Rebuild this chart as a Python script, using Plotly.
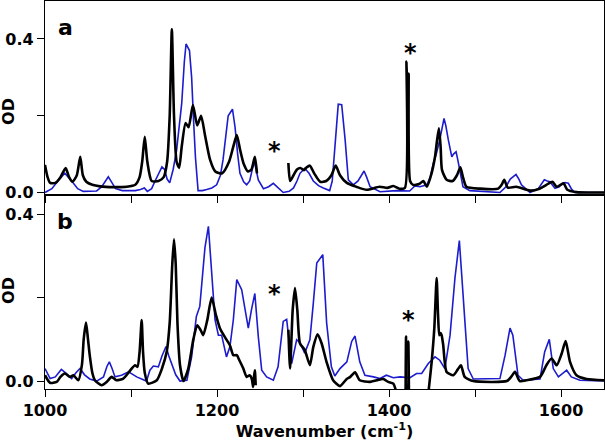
import plotly.graph_objects as go

# ---------------- data (wavenumber cm-1, OD) ----------------
# Panel a, black spectrum (None = gap)
a_black_x = [1000, 1003, 1006, 1012, 1018, 1024, 1028, 1032, 1037, 1041, 1044, 1048, 1055, 1064, 1080,
             1095, 1105, 1110, 1113, 1116, 1119, 1124, 1132, 1138, 1142, 1145, 1147.5, 1150, 1153, 1156,
             1159, 1163.5, 1167, 1172, 1177, 1181.5, 1186, 1192, 1198, 1206, 1214, 1219, 1223, 1227, 1231,
             1236, 1240, 1244, 1246.5, None,
             1283, 1285, 1289, 1293, 1297, 1301, 1304, 1308, 1313, 1320, 1327, 1333, 1338, 1343, 1351,
             1362, 1374, 1389, 1398, 1405, 1412, 1418.5, 1420.3, 1421.5, 1422.8, 1424.5, 1428, 1435, 1440,
             1444, 1449.5, 1453.5, 1455.5, 1458, 1460, 1461.6, 1467, 1474, 1479, 1483, 1486, 1490, 1506,
             1527, 1531, 1534, 1538, 1548, 1564, 1575, 1583, 1590, 1595, 1603, 1607, 1618, 1650]
a_black_y = [0.072, 0.04, 0.025, 0.025, 0.04, 0.064, 0.04, 0.028, 0.045, 0.093, 0.045, 0.028, 0.02, 0.016, 0.014,
             0.015, 0.02, 0.04, 0.08, 0.145, 0.08, 0.03, 0.03, 0.04, 0.08, 0.2, 0.425, 0.2, 0.08, 0.064,
             0.12, 0.181, 0.17, 0.228, 0.175, 0.2, 0.15, 0.085, 0.055, 0.05, 0.08, 0.12, 0.15, 0.11, 0.075,
             0.055, 0.06, 0.093, 0.05, None,
             0.077, 0.03, 0.045, 0.06, 0.064, 0.058, 0.065, 0.07, 0.05, 0.028, 0.03, 0.045, 0.07, 0.045, 0.025,
             0.015, 0.007, 0.015, 0.012, 0.017, 0.01, 0.012, 0.341, 0.2, 0.31, 0.03, 0.02, 0.022, 0.03,
             0.015, 0.05, 0.093, 0.129, 0.167, 0.12, 0.059, 0.033, 0.03, 0.045, 0.066, 0.04, 0.015, 0.01,
             0.01, 0.02, 0.033, 0.013, 0.015, 0.005, 0.01, 0.02, 0.028, 0.015, 0.024, 0.008, 0.001, 0.0]

# Panel a, blue spectrum
a_blue_x = [1000, 1008, 1015, 1023, 1031, 1038, 1044.5, 1060, 1066, 1073.6, 1078, 1082, 1090, 1105, 1111,
            1115.5, 1119, 1124, 1128, 1132, 1136, 1139, 1142, 1145, 1149, 1153, 1156, 1159, 1162, 1164,
            1168, 1170.5, 1172.7, 1175, 1178, 1183, 1188, 1194, 1199.6, 1204, 1207, 1210, 1213, 1218, 1221,
            1224, 1226.7, 1231, 1234.5, 1238, 1241, 1243, 1245, 1248, 1254, 1260, 1265.5, 1270, 1277, 1284,
            1289, 1293, 1296.5, 1302, 1307, 1312, 1318, 1323.6, 1331, 1334, 1336, 1338, 1341, 1345, 1347,
            1349, 1352.7, 1358.5, 1364, 1368, 1371, 1374, 1378, 1389.5, 1409, 1424, 1430, 1436, 1444, 1448,
            1451.5, 1455, 1459, 1464, 1466, 1469, 1473, 1475, 1478, 1480, 1482.5, 1486, 1494, 1529, 1536,
            1541, 1547.7, 1551, 1554, 1564, 1573.6, 1578, 1580.6, 1584, 1587, 1593, 1598, 1602, 1604.6,
            1608.5, 1612, 1616, 1650]
a_blue_y = [0.0, 0.01, 0.03, 0.05, 0.03, 0.01, 0.003, 0.004, 0.015, 0.041, 0.025, 0.01, 0.005, 0.005, 0.008,
            0.012, 0.003, 0.01, 0.03, 0.05, 0.067, 0.06, 0.035, 0.025, 0.06, 0.11, 0.17, 0.233, 0.34, 0.387,
            0.37, 0.3, 0.19, 0.09, 0.005, 0.005, 0.008, 0.012, 0.02, 0.045, 0.085, 0.14, 0.2, 0.217, 0.17,
            0.1, 0.05, 0.028, 0.02, 0.03, 0.06, 0.08, 0.065, 0.033, 0.01, 0.015, 0.024, 0.015, 0.0, 0.003,
            0.012, 0.03, 0.05, 0.063, 0.05, 0.03, 0.018, 0.012, 0.005, 0.03, 0.09, 0.154, 0.23, 0.229, 0.19,
            0.137, 0.033, 0.02, 0.03, 0.045, 0.056, 0.04, 0.015, 0.002, 0.005, 0.004, 0.017, 0.015, 0.02, 0.04,
            0.076, 0.1, 0.137, 0.193, 0.175, 0.137, 0.093, 0.1, 0.106, 0.085, 0.059, 0.015, 0.005, 0.0, 0.015,
            0.035, 0.047, 0.035, 0.02, 0.0, 0.01, 0.025, 0.033, 0.03, 0.028, 0.011, 0.015, 0.024, 0.026,
            0.024, 0.01, 0.0, 0.0]

# Panel b, black spectrum
b_black_x = [1000, 1005.8, 1013.6, 1018, 1023, 1029, 1033, 1038.7, 1043, 1045, 1047.7, 1050, 1052, 1055, 1058,
             1066, 1071.7, 1077.5, 1083, 1091, 1097, 1100.8, 1104.7, 1107.5, 1110, 1112.4, 1114, 1116, 1120,
             1130, 1136, 1141.5, 1145, 1148, 1150, 1152, 1154, 1157, 1161, 1166.6, 1172.5, 1177, 1181, 1184,
             1188.7, 1193.8, 1198.8, 1203.5, 1209, 1215, 1219, 1223, 1226, 1230.6, 1234.5, 1238, 1240.5, 1242,
             1243, 1244, 1245, None,
             1283, 1285, 1288, 1290.7, 1293.4, 1296.5, 1302, 1308, 1312, 1317, 1321.7, 1327.5, 1335, 1343,
             1350.8, 1355, 1360.5, 1366, 1378, 1385.7, 1393.4, 1399, 1405, 1409, None,
             1419.3, 1419.8, 1420.5, 1421.8, 1422.5, 1423.2, None,
             1445.7, 1449.6, 1452.7, 1455.4, 1457, 1458.5, 1460, 1461.2, 1463, 1467, 1474.8, 1480, 1483.7,
             1488, 1498, 1537, 1542, 1546.5, 1552, 1560, 1575.6, 1583, 1589, 1595, 1600.8, 1605.4, 1610.5,
             1618, 1629.6, 1650]
b_black_y = [0.014, -0.004, -0.002, 0.01, 0.018, 0.01, 0.014, 0.002, 0.04, 0.1, 0.14, 0.1, 0.062, 0.02, 0.002,
             -0.01, -0.002, 0.01, 0.002, 0.006, 0.02, 0.03, 0.038, 0.034, 0.07, 0.146, 0.07, 0.02, -0.006,
             0.002, 0.03, 0.07, 0.14, 0.28, 0.34, 0.28, 0.14, 0.038, 0.0, 0.03, 0.1, 0.134, 0.122, 0.11,
             0.146, 0.2, 0.158, 0.126, 0.106, 0.086, 0.062, 0.062, 0.05, 0.03, 0.01, 0.014, 0.005, -0.014,
             0.01, 0.026, -0.01, None,
             0.123, 0.03, 0.17, 0.223, 0.17, 0.09, 0.075, 0.038, 0.082, 0.112, 0.09, 0.045, 0.002, -0.012,
             0.005, 0.01, 0.021, 0.002, -0.002, 0.002, 0.005, -0.002, -0.006, -0.03, None,
             -0.03, 0.107, -0.03, -0.03, 0.095, -0.03, None,
             -0.03, 0.046, 0.127, 0.247, 0.16, 0.11, 0.115, 0.11, 0.087, 0.022, 0.014, 0.028, 0.038,
             0.01, 0.0, 0.0, 0.01, 0.022, 0.0, 0.002, 0.01, 0.038, 0.054, 0.038, 0.066, 0.096, 0.046,
             0.014, 0.005, 0.002]

# Panel b, blue spectrum
b_blue_x = [1000, 1006, 1012, 1019, 1025, 1031, 1036, 1040.7, 1046, 1052, 1060, 1068, 1072, 1074.8, 1078,
            1081.4, 1089, 1097, 1102, 1106.6, 1118, 1122, 1126, 1131.8, 1136, 1140.7, 1144, 1147, 1152, 1157,
            1165, 1170.5, 1176, 1180, 1183, 1186, 1190, 1193.8, 1197.7, 1201.6, 1205.4, 1211, 1215, 1219,
            1223, 1228.7, 1236.4, 1240, 1244, 1248, 1252, 1257.7, 1265.5, 1271, 1277, 1281, 1284, 1286.8,
            1292.6, 1296.5, 1302, 1308, 1312, 1316, 1323, 1327.5, 1333, 1337, 1343, 1351, 1356.6, 1360.5,
            1366, 1372, 1382, 1389.5, 1397, 1405, 1413, 1424.4, 1432, 1438, 1445.7, 1453.5, 1459, 1465, 1471,
            1476.7, 1481.8, 1486.4, 1492, 1498, 1529, 1535, 1540.7, 1544, 1550, 1556, 1575.6, 1581, 1586.4,
            1591, 1597, 1606.6, 1612, 1622, 1650]
b_blue_y = [0.03, 0.006, 0.01, 0.028, 0.018, 0.006, 0.02, 0.03, 0.015, 0.005, 0.0, 0.01, 0.035, 0.046, 0.03,
            0.01, 0.014, 0.022, 0.016, 0.01, 0.0, 0.026, 0.036, 0.034, 0.06, 0.083, 0.06, 0.042, 0.015, 0.0,
            0.002, 0.058, 0.155, 0.179, 0.243, 0.32, 0.371, 0.25, 0.147, 0.11, 0.11, 0.058, 0.082, 0.147,
            0.243, 0.219, 0.127, 0.17, 0.21, 0.107, 0.026, 0.01, 0.002, 0.034, 0.143, 0.148, 0.09, 0.042,
            0.099, 0.092, 0.067, 0.099, 0.187, 0.283, 0.303, 0.139, 0.034, 0.012, 0.03, 0.046, 0.095, 0.108,
            0.046, 0.014, 0.01, 0.006, 0.014, 0.008, 0.01, 0.008, 0.018, 0.018, 0.042, 0.058, 0.05, 0.03, 0.11,
            0.247, 0.337, 0.207, 0.03, 0.005, 0.006, 0.062, 0.127, 0.11, 0.014, 0.002, 0.005, 0.07, 0.1,
            0.03, 0.01, 0.026, 0.01, 0.002, 0.0]

x_label_vals = [1000, 1200, 1400, 1600]
x_minor_vals = [1100, 1300, 1500]
y_label_vals = [0.0, 0.4]
y_label_text = ["0.0", "0.4"]
y_minor_vals = [0.2]
panel_labels = ["a", "b"]
star_positions_a = [(1267, 0.119), (1425, 0.374)]
star_positions_b = [(1267, 0.219), (1422.5, 0.157)]

# ---------------- figure ----------------
BLUE = "rgb(28,28,205)"
FONT = dict(family="DejaVu Sans", size=16, color="black", weight="bold")

fig = go.Figure()
fig.add_trace(go.Scatter(x=a_blue_x, y=a_blue_y, mode="lines", line=dict(color=BLUE, width=1.6),
                         xaxis="x", yaxis="y", showlegend=False, connectgaps=False))
fig.add_trace(go.Scatter(x=a_black_x, y=a_black_y, mode="lines",
                         line=dict(color="black", width=2.6, shape="spline", smoothing=0.6),
                         xaxis="x", yaxis="y", showlegend=False, connectgaps=False))
fig.add_trace(go.Scatter(x=b_blue_x, y=b_blue_y, mode="lines", line=dict(color=BLUE, width=1.6),
                         xaxis="x2", yaxis="y2", showlegend=False, connectgaps=False))
fig.add_trace(go.Scatter(x=b_black_x, y=b_black_y, mode="lines",
                         line=dict(color="black", width=2.6, shape="spline", smoothing=0.6),
                         xaxis="x2", yaxis="y2", showlegend=False, connectgaps=False))

XR = [1000, 1650]
YRA = [-0.0065, 0.499]
YRB = [-0.019, 0.446]
common_axis = dict(showgrid=False, zeroline=False, linecolor="black", linewidth=1.2,
                   tickcolor="black", tickwidth=1.3, ticklen=7, automargin=False)


def xminor(direction):
    return dict(tickvals=x_minor_vals, ticks=direction, ticklen=7, tickwidth=1.3,
                tickcolor="black", showgrid=False)


def yminor(direction):
    return dict(tickvals=y_minor_vals, ticks=direction, ticklen=7, tickwidth=1.3,
                tickcolor="black", showgrid=False)


fig.update_layout(
    template="none",
    width=605, height=443,
    margin=dict(l=45, r=1, t=1, b=54),
    plot_bgcolor="white", paper_bgcolor="white",
    font=FONT,
    showlegend=False,
    xaxis=dict(domain=[0, 1], anchor="y", range=XR, tickvals=x_label_vals, showticklabels=False,
               ticks="outside", showline=True, mirror=True, minor=xminor("outside"), **common_axis),
    xaxis2=dict(domain=[0, 1], anchor="y2", range=XR, tickvals=x_label_vals,
                ticks="outside", showline=True, mirror=True, tickfont=FONT, minor=xminor("outside"),
                title=dict(text="Wavenumber (cm<sup>-1</sup>)", font=FONT, standoff=4), **common_axis),
    xaxis3=dict(overlaying="x", anchor="y", side="top", range=XR, tickvals=x_label_vals,
                showticklabels=False, ticks="inside", showline=False, minor=xminor("inside"), **common_axis),
    yaxis=dict(domain=[0.5, 1], anchor="x", range=YRA, tickvals=y_label_vals, ticktext=y_label_text,
               ticks="outside", showline=True, mirror=True, tickfont=FONT, minor=yminor("outside"),
               **common_axis),
    yaxis2=dict(domain=[0, 0.5], anchor="x2", range=YRB, tickvals=y_label_vals, ticktext=y_label_text,
                ticks="outside", showline=True, mirror=True, tickfont=FONT, minor=yminor("outside"),
                **common_axis),
    yaxis3=dict(overlaying="y", anchor="x", side="right", range=YRA, tickvals=y_label_vals,
                showticklabels=False, ticks="inside", showline=False, minor=yminor("inside"), **common_axis),
    yaxis4=dict(overlaying="y2", anchor="x2", side="right", range=YRB, tickvals=y_label_vals,
                showticklabels=False, ticks="inside", showline=False, minor=yminor("inside"), **common_axis),
)

ann = []
# OD labels
for yref, yv in (("y", 0.21), ("y2", 0.216)):
    ann.append(dict(text="OD", xref="paper", yref=yref, x=-0.0644, y=yv, textangle=-90,
                    showarrow=False, xanchor="center", yanchor="middle", font=FONT))
# panel letters
big = dict(family="DejaVu Sans", size=22, color="black", weight="bold")
ann.append(dict(text=panel_labels[0], xref="x", yref="y", x=1024.4, y=0.431, showarrow=False, font=big))
ann.append(dict(text=panel_labels[1], xref="x2", yref="y2", x=1023, y=0.382, showarrow=False, font=big))
# asterisks
star = dict(family="DejaVu Sans", size=24, color="black", weight="bold")
for (sx, sy) in star_positions_a:
    ann.append(dict(text="*", xref="x", yref="y", x=sx, y=sy, showarrow=False, yshift=-4, font=star))
for (sx, sy) in star_positions_b:
    ann.append(dict(text="*", xref="x2", yref="y2", x=sx, y=sy, showarrow=False, yshift=-4, font=star))
fig.update_layout(annotations=ann)

fig.write_html("out.html", config={"displayModeBar": False},
               post_script="document.body.style.margin='0';document.body.style.overflow='hidden';")
